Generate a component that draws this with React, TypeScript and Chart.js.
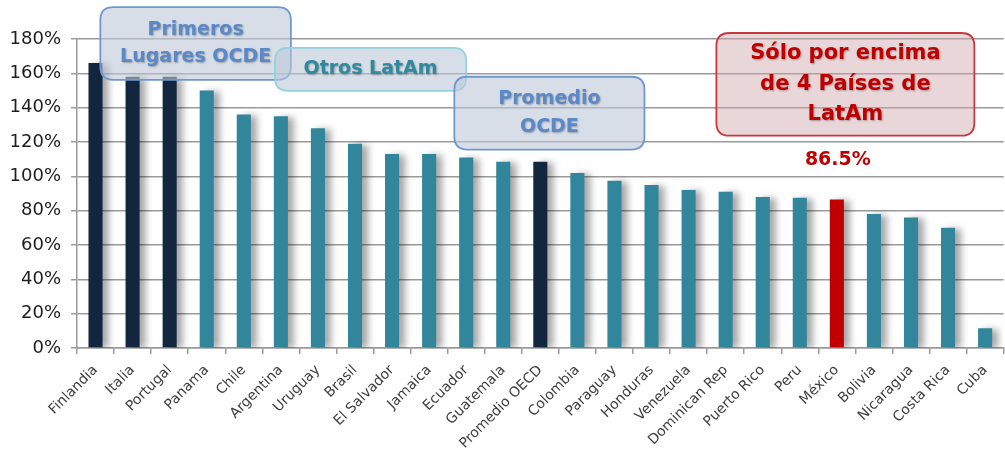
import React, { useEffect, useRef } from "react";
import { Chart, registerables } from "chart.js";

Chart.register(...registerables);

const categories = [
  "Finlandia", "Italia", "Portugal", "Panama", "Chile", "Argentina", "Uruguay", "Brasil",
  "El Salvador", "Jamaica", "Ecuador", "Guatemala", "Promedio OECD", "Colombia", "Paraguay",
  "Honduras", "Venezuela", "Dominican Rep", "Puerto Rico", "Peru", "México", "Bolivia",
  "Nicaragua", "Costa Rica", "Cuba",
];
const values = [
  166, 158, 158, 150, 136, 135, 128, 119, 113, 113, 111, 108.5, 108.5, 102, 97.5, 95, 92, 91,
  88, 87.5, 86.5, 78, 76, 70, 11.5,
];
const groups = [
  "oecd", "oecd", "oecd", "latam", "latam", "latam", "latam", "latam", "latam", "latam", "latam",
  "latam", "oecd", "latam", "latam", "latam", "latam", "latam", "latam", "latam", "mexico",
  "latam", "latam", "latam", "latam",
];
const yTickValues = [0, 20, 40, 60, 80, 100, 120, 140, 160, 180];
const highlightText = "86.5%";
const highlightIndex = 20;

const groupColors: Record<string, string> = {
  oecd: "#12263f",
  latam: "#31869b",
  mexico: "#c00000",
};

// callout boxes in data coordinates (category index, value)
const callouts = [
  { lines: ["Primeros", "Lugares OCDE"], x0: 0.13, x1: 5.27, y0: 198.6, y1: 156.2, fill: "rgba(190,200,216,0.6)", stroke: "#7098cc", color: "#5b88c6", size: 19 },
  { lines: ["Otros LatAm"], x0: 4.84, x1: 10.0, y0: 174.8, y1: 149.8, fill: "rgba(190,200,216,0.6)", stroke: "#93d2e0", color: "#2f8a9d", size: 19 },
  { lines: ["Promedio", "OCDE"], x0: 9.68, x1: 14.81, y0: 158, y1: 115.6, fill: "rgba(190,200,216,0.6)", stroke: "#7098cc", color: "#5b88c6", size: 19 },
  { lines: ["Sólo por encima", "de 4 Países de", "LatAm"], x0: 16.75, x1: 23.71, y0: 183.5, y1: 123.7, fill: "rgba(205,165,168,0.45)", stroke: "#c8383c", color: "#c00000", size: 21 },
];

const FONT = "'DejaVu Sans', sans-serif";

function roundRect(ctx: CanvasRenderingContext2D, x: number, y: number, w: number, h: number, r: number) {
  ctx.beginPath();
  ctx.moveTo(x + r, y);
  ctx.lineTo(x + w - r, y);
  ctx.quadraticCurveTo(x + w, y, x + w, y + r);
  ctx.lineTo(x + w, y + h - r);
  ctx.quadraticCurveTo(x + w, y + h, x + w - r, y + h);
  ctx.lineTo(x + r, y + h);
  ctx.quadraticCurveTo(x, y + h, x, y + h - r);
  ctx.lineTo(x, y + r);
  ctx.quadraticCurveTo(x, y, x + r, y);
  ctx.closePath();
}

const shadowPlugin = {
  id: "barShadow",
  beforeDatasetsDraw(chart: any) {
    const ctx = chart.ctx;
    ctx.save();
    ctx.shadowColor = "rgba(0,0,0,0.35)";
    ctx.shadowBlur = 7;
    ctx.shadowOffsetX = 6;
    ctx.shadowOffsetY = 1;
  },
  afterDatasetsDraw(chart: any) {
    chart.ctx.restore();
  },
};

const calloutPlugin = {
  id: "callouts",
  afterDraw(chart: any) {
    const ctx: CanvasRenderingContext2D = chart.ctx;
    const xs = chart.scales.x;
    const ys = chart.scales.y;
    const step = xs.getPixelForValue(1) - xs.getPixelForValue(0);
    const px = (v: number) => xs.getPixelForValue(0) + v * step;
    for (const c of callouts) {
      const x0 = px(c.x0), x1 = px(c.x1);
      const y0 = ys.getPixelForValue(c.y0), y1 = ys.getPixelForValue(c.y1);
      ctx.save();
      roundRect(ctx, x0, y0, x1 - x0, y1 - y0, 13);
      ctx.fillStyle = c.fill;
      ctx.fill();
      ctx.lineWidth = 1.8;
      ctx.strokeStyle = c.stroke;
      ctx.stroke();
      ctx.font = `bold ${c.size}px ${FONT}`;
      ctx.fillStyle = c.color;
      ctx.textAlign = "center";
      ctx.textBaseline = "middle";
      ctx.shadowColor = "rgba(0,0,0,0.3)";
      ctx.shadowBlur = 2;
      ctx.shadowOffsetX = 1;
      ctx.shadowOffsetY = 1;
      const lh = c.size * 1.45;
      const cy = (y0 + y1) / 2;
      const cx = (x0 + x1) / 2;
      c.lines.forEach((ln, i) => {
        ctx.fillText(ln, cx, cy + (i - (c.lines.length - 1) / 2) * lh);
      });
      ctx.restore();
    }
    // value label above Mexico
    const meta = chart.getDatasetMeta(0);
    const bar = meta.data[highlightIndex];
    ctx.save();
    ctx.font = `bold 19px ${FONT}`;
    ctx.fillStyle = "#c00000";
    ctx.textAlign = "center";
    ctx.textBaseline = "middle";
    ctx.fillText(highlightText, bar.x + 1, bar.y - 39);
    ctx.restore();
  },
};

export default function App() {
  const ref = useRef<HTMLCanvasElement | null>(null);
  useEffect(() => {
    document.body.style.margin = "0";
    const canvas = ref.current!;
    const chart = new Chart(canvas, {
      type: "bar",
      data: {
        labels: categories,
        datasets: [
          {
            data: values,
            backgroundColor: groups.map((g) => groupColors[g]),
            barPercentage: 0.38,
            categoryPercentage: 1,
          },
        ],
      },
      options: {
        responsive: false,
        animation: false,
        devicePixelRatio: 1,
        layout: { padding: { top: 39, right: -2, left: 0, bottom: 0 } },
        plugins: { legend: { display: false }, tooltip: { enabled: false } },
        scales: {
          x: {
            grid: { display: true, drawOnChartArea: false, drawTicks: true, tickLength: 6, color: "#9a9a9a", lineWidth: 1.5, offset: true },
            border: { display: true, color: "#9a9a9a", width: 1.5 },
            ticks: {
              minRotation: 45,
              maxRotation: 45,
              autoSkip: false,
              padding: 8,
              color: "#404040",
              font: { family: FONT, size: 14 },
            },
            afterFit(scale: any) {
              scale.height = 107;
            },
          },
          y: {
            min: 0,
            max: 180,
            afterBuildTicks(scale: any) {
              scale.ticks = yTickValues.map((v) => ({ value: v }));
            },
            grid: { color: "#9a9a9a", lineWidth: 1.5, tickLength: 6 },
            border: { display: true, color: "#9a9a9a", width: 1.5 },
            ticks: {
              padding: 10,
              color: "#1e1e1e",
              font: { family: FONT, size: 18, weight: "normal" },
              callback: (v: any) => `${v}%`,
            },
            afterFit(scale: any) {
              scale.width = 77;
            },
          },
        },
      },
      plugins: [shadowPlugin, calloutPlugin],
    } as any);
    return () => chart.destroy();
  }, []);
  return <canvas ref={ref} width={1005} height={455} style={{ display: "block" }} />;
}
